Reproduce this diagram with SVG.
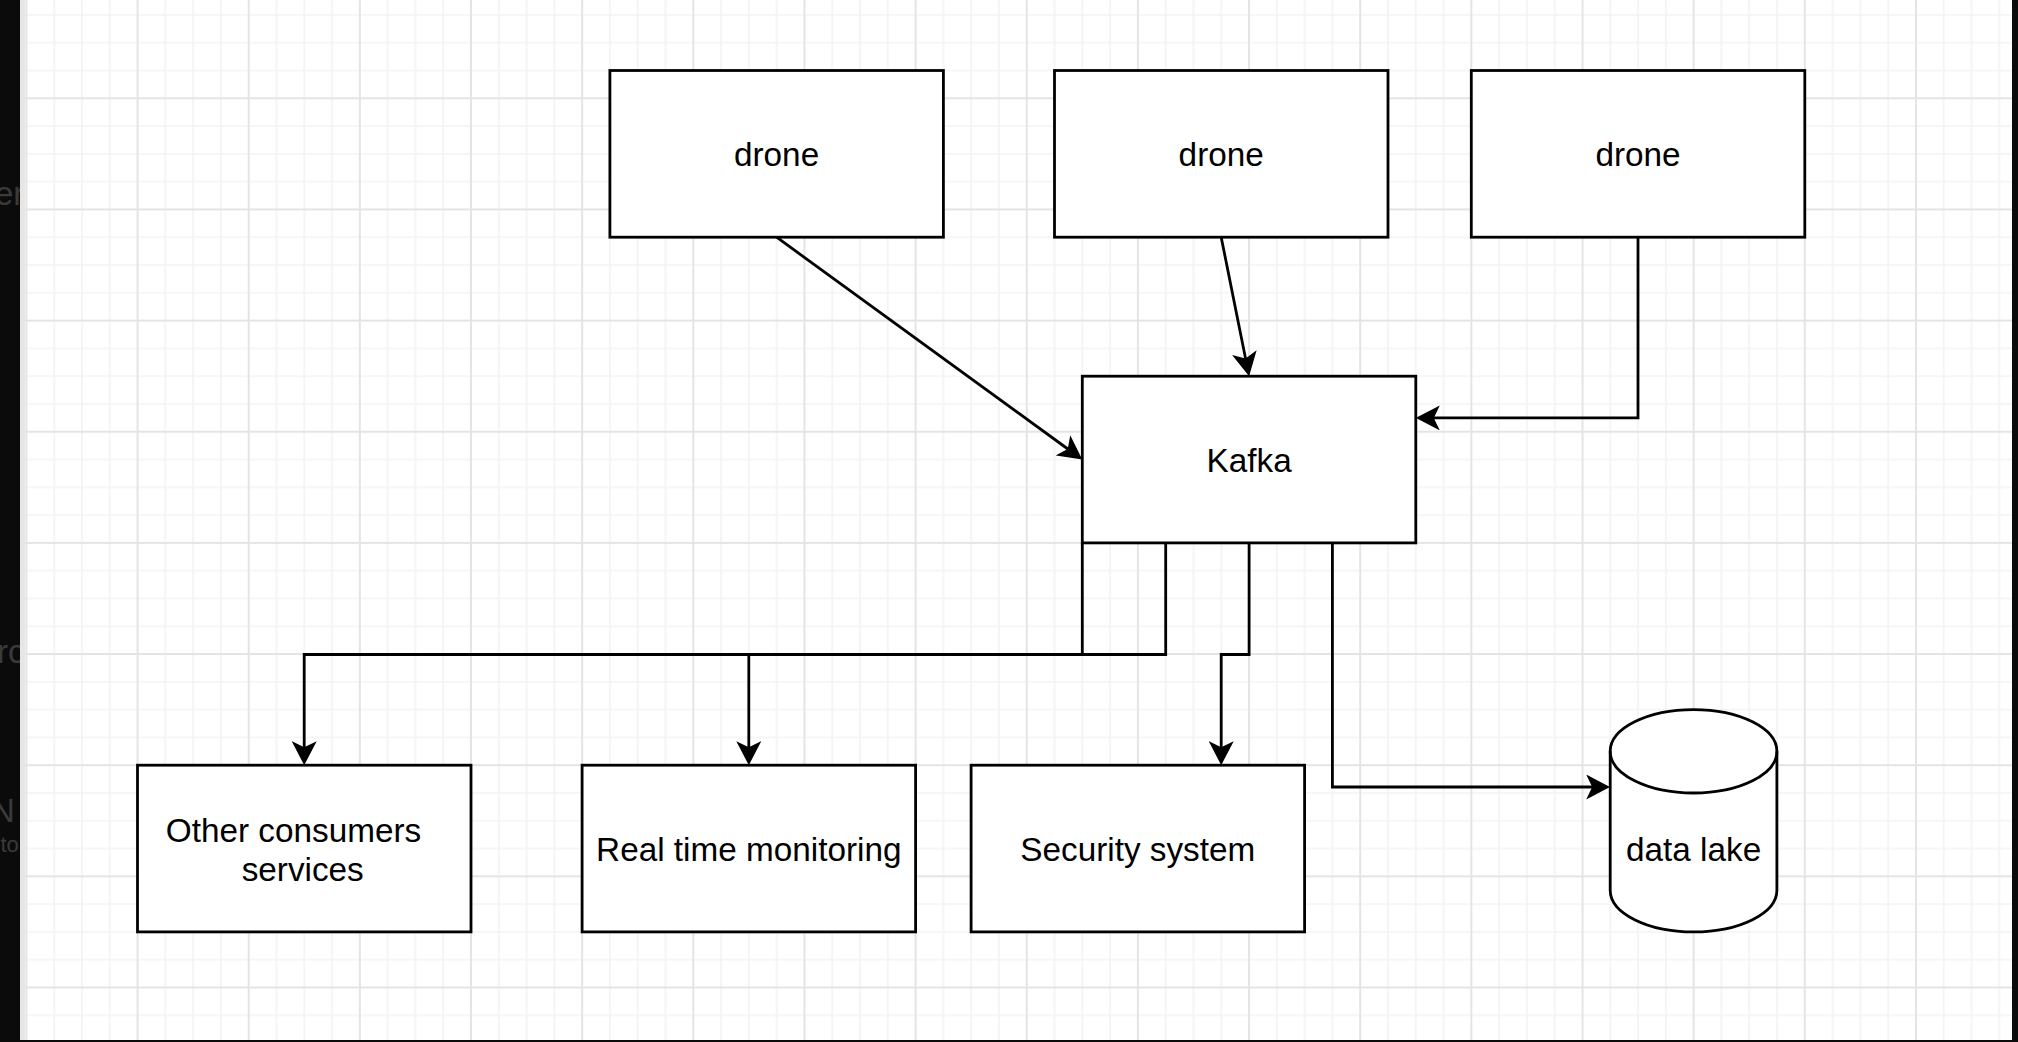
<svg xmlns="http://www.w3.org/2000/svg" width="2018" height="1042" viewBox="0 0 2018 1042">
<style>
.node{fill:#ffffff;stroke:#000000;stroke-width:2.8}
.lbl{font-family:"Liberation Sans",Arial,Helvetica,sans-serif;font-size:33.3px;fill:#000000;text-anchor:middle}
.edge{fill:none;stroke:#000000;stroke-width:2.8;marker-end:url(#arrow)}
.side{font-family:"Liberation Sans",Arial,sans-serif;fill:#3a3a3a}
</style>
<defs>
<marker id="arrow" markerUnits="userSpaceOnUse" viewBox="0 0 24 25" markerWidth="24" markerHeight="25" refX="7" refY="12.5" orient="auto">
<path d="M24,12.5 L0,0 L6,12.5 L0,25 Z" fill="#000000"/>
</marker>
<pattern id="grid" patternUnits="userSpaceOnUse" x="26.4" y="-12.85" width="111.15" height="111.15">
<path d="M27.79,0V111.15M55.58,0V111.15M83.36,0V111.15M0,27.79H111.15M0,55.58H111.15M0,83.36H111.15" stroke="#f3f3f3" stroke-width="1.6" fill="none"/>
<path d="M0,0V111.15M111.15,0V111.15M0,0H111.15M0,111.15H111.15" stroke="#e4e4e4" stroke-width="2" fill="none"/>
</pattern>
<clipPath id="leftclip"><rect x="0" y="0" width="20" height="1042"/></clipPath>
</defs>

<!-- background -->
<rect x="0" y="0" width="2018" height="1042" fill="#0b0b0b"/>
<rect x="20" y="0" width="1992" height="1040" fill="#ffffff"/>
<rect x="25" y="0" width="1987" height="1040" fill="url(#grid)"/>
<rect x="20" y="0" width="5" height="1040" fill="#e6e6e6"/>

<g clip-path="url(#leftclip)">
<text class="side" x="-5" y="205" font-size="33">er</text>
<text class="side" x="-3" y="663" font-size="33">rc</text>
<text class="side" x="-9" y="822" font-size="33">N</text>
<text class="side" x="0.5" y="852" font-size="22" fill="#2c2c2c">to</text>
</g>

<!-- connectors -->
<g id="connectors">
<path class="edge" d="M776.6,237.2 L1068.55,449.5"/>
<path class="edge" d="M1221.2,237.2 L1245.75,359.5"/>
<path class="edge" d="M1638,237.2 V417.9 H1432.8"/>
<path class="edge" d="M1082.3,542.9 V654.5 H304.2 V748.2"/>
<path class="edge" d="M1165.7,542.9 V654.5 H748.8 V748.2"/>
<path class="edge" d="M1249.1,542.9 V654.5 H1221.2 V748.2"/>
<path class="edge" d="M1332.4,542.9 V787 H1593.2"/>
</g>

<!-- nodes -->
<g id="drone1">
<rect class="node" x="609.9" y="70.5" width="333.5" height="166.7"/>
<text class="lbl" x="776.6" y="165.8">drone</text>
</g>
<g id="drone2">
<rect class="node" x="1054.5" y="70.5" width="333.5" height="166.7"/>
<text class="lbl" x="1221.2" y="165.8">drone</text>
</g>
<g id="drone3">
<rect class="node" x="1471.3" y="70.5" width="333.5" height="166.7"/>
<text class="lbl" x="1638" y="165.8">drone</text>
</g>
<g id="kafka">
<rect class="node" x="1082.3" y="376.2" width="333.5" height="166.7"/>
<text class="lbl" x="1249.1" y="471.5">Kafka</text>
</g>
<g id="other-consumers">
<rect class="node" x="137.5" y="765.2" width="333.5" height="166.7"/>
<text class="lbl" x="293.5" y="841.5">Other consumers</text>
<text class="lbl" x="302.7" y="881">services</text>
</g>
<g id="real-time-monitoring">
<rect class="node" x="582.1" y="765.2" width="333.5" height="166.7"/>
<text class="lbl" x="748.8" y="860.5">Real time monitoring</text>
</g>
<g id="security-system">
<rect class="node" x="971.1" y="765.2" width="333.5" height="166.7"/>
<text class="lbl" x="1137.8" y="860.5">Security system</text>
</g>
<g id="data-lake">
<path class="node" d="M1610.2,751.3 A83.35,41.7 0 0 1 1776.9,751.3 L1776.9,890.2 A83.35,41.7 0 0 1 1610.2,890.2 Z"/>
<path d="M1610.2,751.3 A83.35,41.7 0 0 0 1776.9,751.3" fill="none" stroke="#000000" stroke-width="2.8"/>
<text class="lbl" x="1693.6" y="861">data lake</text>
</g>
</svg>
